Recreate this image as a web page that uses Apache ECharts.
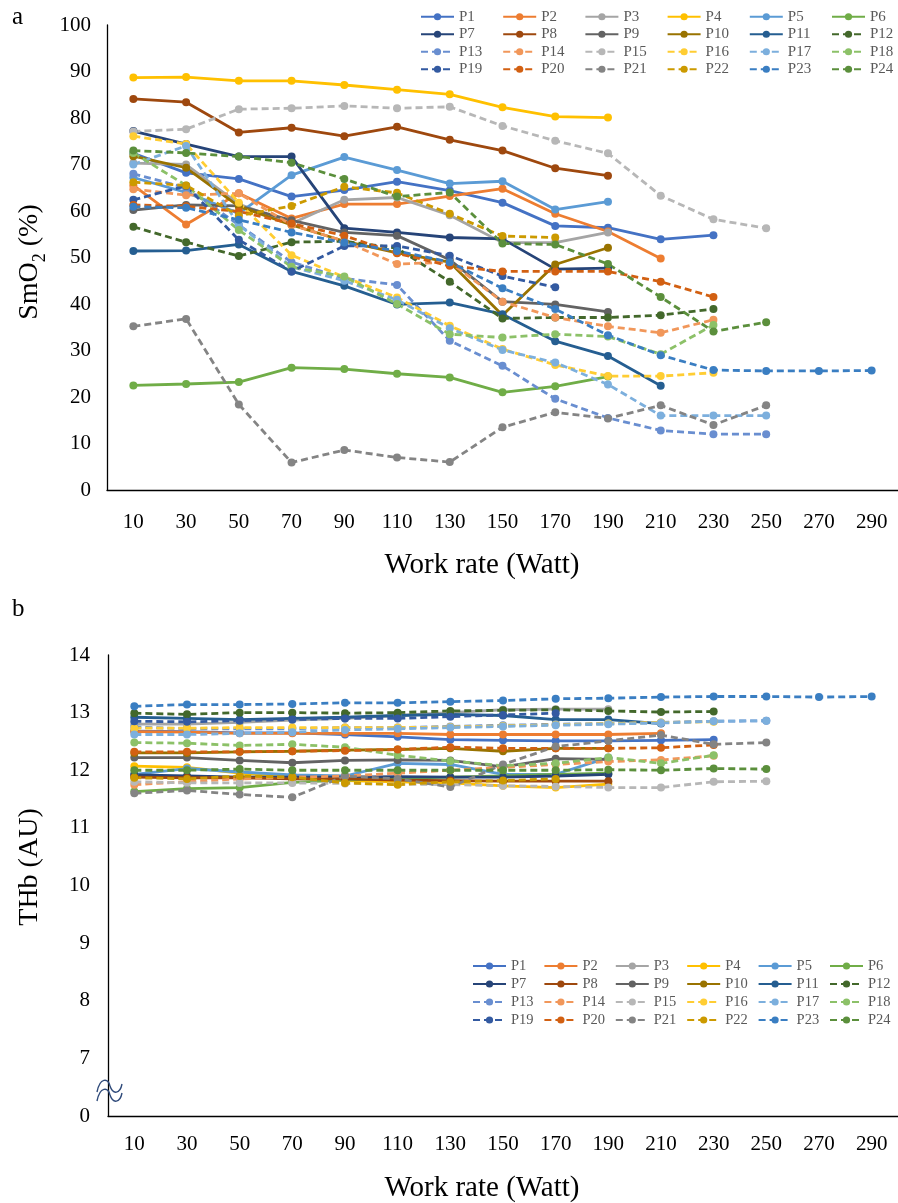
<!DOCTYPE html>
<html>
<head>
<meta charset="utf-8">
<script src="https://cdn.jsdelivr.net/npm/echarts@6/dist/echarts.min.js"></script>
<style>
  html, body { margin: 0; padding: 0; background: #fff; }
  #chart { width: 898px; height: 1203px; }
</style>
</head>
<body>
<div id="chart"></div>
<script>
// work rate categories (Watt)
const workRates = ['10', '30', '50', '70', '90', '110', '130', '150', '170', '190', '210', '230', '250', '270', '290']
const names = ['P1','P2','P3','P4','P5','P6','P7','P8','P9','P10','P11','P12',
               'P13','P14','P15','P16','P17','P18','P19','P20','P21','P22','P23','P24']

// panel a: SmO2 (%)
const smoP1  = [72.4, 68.2, 66.9, 63.1, 64.5, 66.3, 64.4, 61.8, 56.8, 56.4, 53.9, 54.8]
const smoP2  = [65.5, 57.1, 63.8, 58.4, 61.5, 61.5, 63.2, 64.8, 59.4, 55.6, 49.8]
const smoP3  = [70.3, 70.0, 61.5, 57.3, 62.4, 62.9, 59.1, 53.2, 53.2, 55.4]
const smoP4  = [88.7, 88.8, 88.0, 88.0, 87.1, 86.1, 85.1, 82.3, 80.3, 80.1]
const smoP5  = [67.2, 64.0, 59.5, 67.7, 71.6, 68.8, 65.9, 66.4, 60.3, 62.0]
const smoP6  = [22.5, 22.8, 23.2, 26.3, 26.0, 25.0, 24.2, 21.0, 22.3, 24.4]
const smoP7  = [77.2, 74.4, 71.7, 71.7, 56.3, 55.4, 54.3, 54.0, 47.5, 47.7]
const smoP8  = [84.1, 83.4, 76.9, 77.9, 76.1, 78.1, 75.3, 73.0, 69.2, 67.6]
const smoP9  = [60.2, 61.3, 61.1, 58.0, 55.4, 54.7, 49.5, 40.5, 39.9, 38.3]
const smoP10 = [71.8, 69.3, 61.0, 57.0, 53.5, 51.0, 49.0, 37.6, 48.5, 52.1]
const smoP11 = [51.4, 51.5, 52.8, 47.0, 43.9, 39.9, 40.3, 37.8, 32.0, 28.8, 22.4]
const smoP12 = [56.6, 53.3, 50.3, 53.3, 53.5, 52.0, 44.8, 36.9, 37.1, 37.1, 37.6, 38.9]
const smoP13 = [68.0, 65.0, 57.0, 49.0, 45.5, 44.1, 32.1, 26.7, 19.6, 15.5, 12.8, 12.0, 12.0]
const smoP14 = [64.7, 63.4, 63.8, 57.0, 53.5, 48.6, 49.0, 40.5, 37.1, 35.2, 33.8, 36.6]
const smoP15 = [77.1, 77.6, 81.9, 82.1, 82.6, 82.1, 82.4, 78.3, 75.1, 72.4, 63.3, 58.2, 56.3]
const smoP16 = [76.1, 74.4, 61.8, 50.5, 45.8, 41.4, 35.3, 30.3, 26.9, 24.5, 24.5, 25.2]
const smoP17 = [70.0, 74.0, 57.0, 48.0, 45.0, 40.9, 34.8, 30.1, 27.4, 22.7, 16.0, 16.0, 16.0]
const smoP18 = [72.5, 65.5, 55.9, 48.0, 45.9, 40.0, 33.5, 32.8, 33.5, 33.0, 29.2, 35.5]
const smoP19 = [62.4, 65.4, 53.8, 47.0, 52.5, 52.5, 50.4, 46.0, 43.6]
const smoP20 = [61.3, 61.0, 59.9, 57.3, 54.7, 50.9, 48.2, 47.0, 47.0, 47.0, 44.8, 41.5]
const smoP21 = [35.2, 36.8, 18.4, 5.9, 8.6, 7.0, 6.0, 13.5, 16.7, 15.4, 18.2, 14.0, 18.2]
const smoP22 = [66.2, 65.5, 59.0, 61.1, 65.2, 63.9, 59.4, 54.6, 54.3]
const smoP23 = [60.9, 60.7, 58.1, 55.4, 53.2, 51.4, 49.0, 43.4, 38.9, 33.3, 29.0, 25.8, 25.6, 25.6, 25.7]
const smoP24 = [73.0, 72.5, 71.7, 70.4, 66.9, 63.1, 64.0, 53.0, 52.8, 48.6, 41.5, 34.1, 36.1]

// panel b: THb (AU)
const thbP1  = [12.68, 12.67, 12.65, 12.65, 12.62, 12.58, 12.53, 12.52, 12.51, 12.51, 12.52, 12.53]
const thbP2  = [12.67, 12.66, 12.64, 12.64, 12.64, 12.64, 12.62, 12.62, 12.62, 12.62, 12.64]
const thbP3  = [12.80, 12.80, 12.83, 12.87, 12.90, 12.95, 13.00, 13.05, 13.06, 13.06]
const thbP4  = [12.07, 12.05, 11.95, 11.88, 11.82, 11.80, 11.78, 11.73, 11.70, 11.76]
const thbP5  = [11.93, 12.03, 11.97, 11.92, 11.90, 12.12, 12.10, 11.93, 11.93, 12.22]
const thbP6  = [11.63, 11.68, 11.70, 11.79, 11.83, 11.86, 11.88, 11.90, 11.93, 11.95]
const thbP7  = [11.92, 11.90, 11.88, 11.88, 11.88, 11.89, 11.88, 11.88, 11.90, 11.93]
const thbP8  = [11.88, 11.87, 11.87, 11.85, 11.85, 11.83, 11.82, 11.81, 11.81, 11.81]
const thbP9  = [12.22, 12.22, 12.17, 12.13, 12.17, 12.18, 12.17, 12.06, 12.20, 12.19]
const thbP10 = [12.30, 12.30, 12.32, 12.33, 12.35, 12.36, 12.38, 12.33, 12.38, 12.38]
const thbP11 = [12.92, 12.90, 12.88, 12.90, 12.92, 12.95, 12.97, 12.95, 12.88, 12.88, 12.81]
const thbP12 = [12.99, 12.97, 13.00, 13.00, 12.99, 13.00, 13.03, 13.04, 13.05, 13.03, 13.01, 13.02]
const thbP13 = [12.75, 12.72, 12.72, 12.72, 12.74, 12.74, 12.76, 12.78, 12.80, 12.81, 12.83, 12.85, 12.86]
const thbP14 = [11.75, 11.80, 11.85, 11.88, 11.90, 11.95, 12.00, 12.05, 12.10, 12.15, 12.18, 12.25]
const thbP15 = [11.80, 11.78, 11.78, 11.78, 11.77, 11.76, 11.75, 11.73, 11.72, 11.70, 11.70, 11.80, 11.81]
const thbP16 = [12.73, 12.73, 12.74, 12.74, 12.74, 12.74, 12.75, 12.77, 12.79, 12.81, 12.83, 12.84]
const thbP17 = [12.62, 12.62, 12.64, 12.66, 12.70, 12.72, 12.74, 12.76, 12.78, 12.80, 12.82, 12.85, 12.86]
const thbP18 = [12.48, 12.47, 12.43, 12.45, 12.40, 12.26, 12.16, 12.08, 12.12, 12.22, 12.12, 12.26]
const thbP19 = [12.85, 12.84, 12.86, 12.88, 12.90, 12.90, 12.93, 12.96, 12.99]
const thbP20 = [12.32, 12.32, 12.32, 12.33, 12.34, 12.36, 12.40, 12.38, 12.38, 12.38, 12.39, 12.44]
const thbP21 = [11.60, 11.65, 11.58, 11.53, 11.90, 11.85, 11.71, 12.10, 12.41, 12.51, 12.61, 12.45, 12.48]
const thbP22 = [11.87, 11.85, 11.90, 11.88, 11.78, 11.75, 11.80, 11.82, 11.85]
const thbP23 = [13.11, 13.14, 13.14, 13.15, 13.17, 13.17, 13.19, 13.21, 13.24, 13.25, 13.27, 13.28, 13.28, 13.27, 13.28]
const thbP24 = [12.00, 12.00, 12.02, 12.00, 12.00, 12.00, 12.00, 12.00, 12.00, 12.01, 12.00, 12.03, 12.02]

const smoRows = [smoP1, smoP2, smoP3, smoP4, smoP5, smoP6, smoP7, smoP8, smoP9, smoP10, smoP11, smoP12,
  smoP13, smoP14, smoP15, smoP16, smoP17, smoP18, smoP19, smoP20, smoP21, smoP22, smoP23, smoP24]
const thbRows = [thbP1, thbP2, thbP3, thbP4, thbP5, thbP6, thbP7, thbP8, thbP9, thbP10, thbP11, thbP12,
  thbP13, thbP14, thbP15, thbP16, thbP17, thbP18, thbP19, thbP20, thbP21, thbP22, thbP23, thbP24]

// Excel office palette, P12..P24 dashed
const colors = ['#4472C4', '#ED7D31', '#A5A5A5', '#FFC000', '#5B9BD5', '#70AD47',
  '#264478', '#9E480E', '#636363', '#997300', '#255E91', '#43682B',
  '#698ED0', '#F1975A', '#B7B7B7', '#FFCD33', '#7CAFDD', '#8CC168',
  '#335AA1', '#D26012', '#848484', '#CC9A00', '#3A7EC2', '#5B8F3C']

const FONT = 'Liberation Serif'

const chart = echarts.init(document.getElementById('chart'), null, { renderer: 'canvas' })

function makeSeries(rows, axisIdx) {
  return rows.map((row, i) => ({
    name: names[i],
    type: 'line',
    xAxisIndex: axisIdx,
    yAxisIndex: axisIdx,
    data: row,
    symbol: 'circle',
    symbolSize: 8,
    showSymbol: true,
    color: colors[i],
    itemStyle: { color: colors[i] },
    lineStyle: { width: 2.8, color: colors[i], type: i >= 11 ? [7, 4] : 'solid' },
    emphasis: { disabled: true },
    z: 2
  }))
}

// one vertical legend per column, 6 columns x 4 rows
function makeLegends(left0, step, top, fontSize, rowH) {
  const out = []
  for (let c = 0; c < 6; c++) {
    out.push({
      orient: 'vertical',
      left: left0 + c * step,
      top: top,
      itemWidth: 33,
      itemHeight: 9,
      itemGap: 0,
      padding: 0,
      selectedMode: false,
      data: [names[c], names[c + 6], names[c + 12], names[c + 18]],
      textStyle: { fontFamily: FONT, fontSize: fontSize, color: '#595959', lineHeight: rowH }
    })
  }
  return out
}

// the break mark on the THb axis, drawn as two small waves
function breakWave(dy) {
  const s = { fill: null, stroke: '#2F4A7A', lineWidth: 1.4 }
  return [
    { type: 'bezierCurve', z: 10, shape: { x1: 97, y1: 1092 + dy, cpx1: 100, cpy1: 1077 + dy, cpx2: 108, cpy2: 1078 + dy, x2: 110, y2: 1086 + dy }, style: s },
    { type: 'bezierCurve', z: 10, shape: { x1: 110, y1: 1086 + dy, cpx1: 113, cpy1: 1095 + dy, cpx2: 120, cpy2: 1094 + dy, x2: 122, y2: 1084 + dy }, style: s }
  ]
}

const axisLineStyle = { show: true, lineStyle: { color: '#000', width: 1.3 } }
const labelStyle = { fontFamily: FONT, fontSize: 21, color: '#000' }

const option = {
  animation: false,
  backgroundColor: '#fff',
  grid: [
    { left: 107, right: -4, top: 25, height: 465 },
    { left: 108, right: -4, top: 655, height: 461 }
  ],
  xAxis: [0, 1].map(i => ({
    type: 'category',
    gridIndex: i,
    data: workRates,
    boundaryGap: true,
    axisLine: axisLineStyle,
    axisTick: { show: false },
    axisLabel: Object.assign({ margin: i === 0 ? 22 : 18, interval: 0 }, labelStyle),
    splitLine: { show: false }
  })),
  yAxis: [
    {
      type: 'value', gridIndex: 0, min: 0, max: 100, interval: 10,
      axisLine: axisLineStyle, axisTick: { show: false }, splitLine: { show: false },
      axisLabel: Object.assign({ margin: 16 }, labelStyle)
    },
    {
      // broken axis: the 6 slot is labelled 0
      type: 'value', gridIndex: 1, min: 6, max: 14, interval: 1,
      axisLine: axisLineStyle, axisTick: { show: false }, splitLine: { show: false },
      axisLabel: Object.assign({ margin: 18, formatter: v => (v === 6 ? '0' : String(v)) }, labelStyle)
    }
  ],
  legend: makeLegends(420, 82.2, 8, 15, 17.5).concat(makeLegends(472, 71.4, 957, 14.5, 18)),
  series: makeSeries(smoRows, 0).concat(makeSeries(thbRows, 1)),
  graphic: [
    { type: 'text', x: 12, y: 5, style: { text: 'a', fontFamily: FONT, fontSize: 25, fill: '#000' } },
    { type: 'text', x: 12, y: 597, style: { text: 'b', fontFamily: FONT, fontSize: 25, fill: '#000' } },
    { type: 'text', x: 482, y: 565, style: { text: 'Work rate (Watt)', fontFamily: FONT, fontSize: 29, fill: '#000', align: 'center', verticalAlign: 'middle' } },
    { type: 'text', x: 482, y: 1188, style: { text: 'Work rate (Watt)', fontFamily: FONT, fontSize: 29, fill: '#000', align: 'center', verticalAlign: 'middle' } },
    {
      type: 'text', x: 30, y: 262, rotation: Math.PI / 2,
      style: {
        text: '{m|SmO}{s|2}{m| (%)}', align: 'center', verticalAlign: 'middle',
        rich: {
          m: { fontFamily: FONT, fontSize: 28, fill: '#000', verticalAlign: 'bottom' },
          s: { fontFamily: FONT, fontSize: 18, fill: '#000', verticalAlign: 'bottom', padding: [0, 0, -5, 0] }
        }
      }
    },
    { type: 'text', x: 30, y: 867, rotation: Math.PI / 2, style: { text: 'THb (AU)', fontFamily: FONT, fontSize: 28, fill: '#000', align: 'center', verticalAlign: 'middle' } }
  ].concat(breakWave(0), breakWave(9))
}

chart.setOption(option)
</script>
</body>
</html>
